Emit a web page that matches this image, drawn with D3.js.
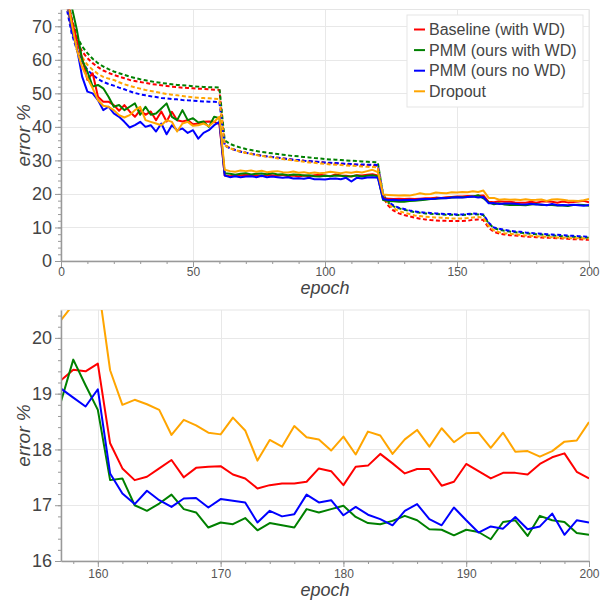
<!DOCTYPE html>
<html>
<head>
<meta charset="utf-8">
<script src="https://cdn.jsdelivr.net/npm/d3@7"></script>
<style>
body { margin: 0; background: #fff; }
svg { display: block; font-family: "Liberation Sans", Arial, sans-serif; }
</style>
</head>
<body>
<svg id="chart" width="608" height="600"></svg>
<script>
// series names + colours
const seriesNames = ["Baseline (with WD)", "PMM (ours with WD)", "PMM (ours no WD)", "Dropout"];
const seriesColors = ["#ff0000", "#008000", "#0000ff", "#ffa500"];

// top panel: every 2nd epoch from 0 to 200
const topEpochs = d3.range(0, 201, 2);

// test error (solid)
const baselineTest = [91, 80, 72, 66, 60.5, 54, 56, 49, 47.5, 47.5,
  46.5, 44.8, 46.5, 44.6, 43, 45, 43.6, 44.6, 42, 44.6,
  41.6, 44.5, 42, 41.6, 42, 40.8, 41, 41.5, 41.6, 41.5,
  40.8, 25.5, 25.3, 25.6, 25.5, 25.7, 25.4, 25.6, 25.3, 25.7,
  25.6, 25.4, 25.7, 25.3, 25.5, 25.2, 25.5, 25.3, 25.6, 25.7,
  25.5, 25.3, 25.8, 25.5, 25.4, 25.2, 25.6, 25.5, 25.7, 25.9,
  25.5, 18.7, 18.6, 18.5, 18.6, 18.5, 18.6, 18.5, 18.6, 18.7,
  18.7, 18.9, 18.8, 19.0, 19.1, 19.2, 19.2, 19.4, 19.3, 19.43,
  19.54, 17.66, 17.51, 17.81, 17.67, 17.70, 17.48, 17.36, 17.39, 17.66,
  17.36, 17.71, 17.75, 17.65, 17.35, 17.74, 17.48, 17.58, 17.74, 17.93,
  17.48];
const pmmWdTest = [92, 84, 76, 69, 60, 56.5, 52, 52.5, 51.5, 49,
  46, 46.5, 45, 46, 47, 43.6, 46, 43.6, 44, 45.5,
  47, 43, 42, 45, 42, 42.6, 41.3, 41.6, 40, 43,
  42.6, 26.2, 26.0, 25.7, 26.0, 26.2, 25.8, 26.0, 26.1, 25.9,
  26.2, 25.8, 25.9, 25.6, 25.8, 25.7, 25.5, 25.6, 25.3, 25.2,
  25.4, 25.3, 25.5, 25.4, 25.2, 25.3, 25.5, 25.2, 25.4, 25.6,
  25.3, 18.2, 17.9, 17.8, 17.7, 17.7, 17.9, 18.0, 18.1, 18.3,
  18.5, 18.6, 18.7, 18.8, 18.9, 19.0, 19.0, 19.1, 19.2, 19.61,
  18.71, 17.48, 16.90, 17.19, 16.87, 16.69, 16.77, 16.68, 16.60, 16.87,
  16.99, 16.68, 16.72, 16.73, 16.56, 16.56, 16.39, 16.73, 16.81, 16.70,
  16.47];
const pmmNoWdTest = [90, 79, 69, 63.5, 55, 50.5, 50, 48, 45, 46,
  44, 43, 41.5, 39.8, 40.5, 41.5, 40, 40.5, 38.6, 41,
  37.8, 40.5, 39, 39.5, 38.2, 39, 36.5, 38.2, 39, 40.5,
  41.5, 25.5, 25.0, 25.3, 25.0, 25.2, 25.3, 25.0, 25.4, 25.0,
  25.2, 25.0, 24.8, 25.0, 24.6, 24.7, 24.5, 24.8, 24.4, 24.4,
  24.3, 24.5, 24.6, 24.4, 24.8, 23.7, 24.8, 24.6, 24.9, 25.0,
  24.8, 18.5, 18.2, 18.3, 18.1, 18.2, 18.3, 18.2, 18.4, 18.5,
  18.5, 18.6, 18.8, 18.7, 18.9, 19.0, 18.9, 19.1, 19.2, 18.93,
  19.08, 17.21, 17.26, 16.97, 17.13, 17.11, 17.05, 16.90, 16.84, 17.05,
  16.82, 16.83, 16.64, 17.02, 16.64, 16.73, 16.62, 16.79, 16.62, 16.47,
  16.69];
const dropoutTest = [90, 80, 71, 63, 57.8, 54.5, 51.5, 48, 46.3, 46,
  45, 43.5, 42.8, 43.5, 45, 46, 42, 41.5, 41, 40.5,
  42, 41.5, 38.6, 41, 41.5, 40.3, 40.5, 41, 40.2, 41.5,
  43, 27.2, 26.8, 26.6, 27.0, 26.8, 27.0, 26.6, 26.9, 26.5,
  26.7, 26.8, 26.5, 26.4, 26.7, 26.3, 26.5, 26.2, 26.4, 26.2,
  26.3, 26.6, 26.4, 26.2, 26.5, 26.3, 26.6, 26.4, 26.8, 27.2,
  26.5, 19.8, 19.7, 19.6, 19.5, 19.6, 19.5, 19.8, 20.2, 19.9,
  20.0, 20.4, 20.3, 20.2, 20.5, 20.4, 20.6, 20.5, 20.8, 20.6,
  21.0, 18.80, 18.81, 18.26, 18.43, 18.27, 18.34, 18.17, 18.42, 18.18,
  18.23, 18.32, 17.92, 18.35, 18.38, 18.29, 18.03, 17.96, 17.87, 18.14,
  18.49];

// train error (dashed)
const baselineTrain = [90, 78, 70, 65.5, 62.5, 60.5, 59, 57.8, 56.8, 56.1,
  55.5, 55, 54.5, 54, 53.7, 53.4, 53.1, 52.8, 52.6, 52.4,
  52.2, 52.0, 51.9, 51.7, 51.6, 51.5, 51.4, 51.3, 51.2, 51.1,
  51.0, 34.6, 33.7, 33.1, 32.7, 32.3, 32.0, 31.7, 31.4, 31.2,
  31.0, 30.8, 30.6, 30.4, 30.2, 30.0, 29.9, 29.7, 29.6, 29.5,
  29.3, 29.2, 29.1, 29.0, 28.9, 28.8, 28.7, 28.6, 28.6, 28.5,
  28.4, 19.0, 16.5, 15.0, 14.2, 13.7, 13.3, 12.9, 12.6, 12.4,
  12.2, 12.1, 12.0, 12.0, 11.9, 11.9, 11.9, 12.0, 12.3, 12.4,
  12.2, 9.9, 8.7, 8.2, 7.9, 7.7, 7.6, 7.5, 7.3, 7.2,
  7.1, 7.0, 6.9, 6.9, 6.8, 6.7, 6.6, 6.5, 6.5, 6.4,
  6.3];
const pmmWdTrain = [92, 80, 72.5, 67, 64, 62, 60.3, 59, 58, 57.2,
  56.5, 56, 55.5, 55, 54.6, 54.2, 53.9, 53.6, 53.3, 53.1,
  52.9, 52.7, 52.5, 52.4, 52.3, 52.1, 52.0, 51.9, 51.8, 51.8,
  51.7, 36.0, 34.9, 34.3, 33.8, 33.4, 33.1, 32.8, 32.5, 32.3,
  32.1, 31.9, 31.7, 31.5, 31.3, 31.2, 31.0, 30.9, 30.7, 30.6,
  30.4, 30.3, 30.2, 30.1, 30.0, 29.9, 29.8, 29.7, 29.6, 29.5,
  29.4, 19.8, 17.4, 16.3, 15.7, 15.3, 14.9, 14.6, 14.4, 14.2,
  14.1, 14.0, 13.9, 13.8, 13.8, 13.7, 13.7, 13.8, 14.0, 13.9,
  13.7, 11.2, 9.8, 9.3, 9.0, 8.8, 8.6, 8.4, 8.3, 8.1,
  8.0, 7.9, 7.7, 7.6, 7.5, 7.4, 7.3, 7.2, 7.1, 7.0,
  6.9];
const pmmNoWdTrain = [88, 76, 68, 63, 59.5, 57, 55.5, 54.3, 53.4, 52.8,
  52.3, 51.7, 51.2, 50.6, 50.1, 49.7, 49.4, 49.1, 48.9, 48.6,
  48.5, 48.3, 48.2, 48.0, 47.9, 47.8, 47.7, 47.6, 47.5, 47.5,
  47.4, 34.4, 33.6, 33.1, 32.6, 32.3, 32.0, 31.7, 31.4, 31.2,
  31.0, 30.8, 30.6, 30.4, 30.2, 30.1, 29.9, 29.8, 29.6, 29.5,
  29.4, 29.3, 29.2, 29.1, 29.0, 28.9, 28.8, 28.8, 28.7, 28.7,
  28.6, 20.0, 17.6, 16.5, 15.9, 15.5, 15.1, 14.8, 14.6, 14.4,
  14.3, 14.2, 14.1, 14.0, 14.0, 13.9, 13.9, 14.0, 14.2, 14.1,
  13.9, 11.4, 10.0, 9.6, 9.3, 9.0, 8.8, 8.7, 8.5, 8.4,
  8.2, 8.1, 8.0, 7.9, 7.8, 7.7, 7.6, 7.5, 7.4, 7.3,
  7.2];
const dropoutTrain = [89, 77, 69, 64, 60.8, 58.5, 57, 55.8, 54.9, 54.4,
  54, 53.3, 52.7, 52.2, 51.8, 51.4, 51.0, 50.7, 50.4, 50.1,
  49.8, 49.6, 49.4, 49.2, 49.0, 48.8, 48.7, 48.6, 48.5, 48.4,
  48.3, 34.5, 33.6, 33.1, 32.6, 32.2, 31.9, 31.6, 31.3, 31.1,
  30.9, 30.6, 30.4, 30.2, 30.0, 29.8, 29.6, 29.4, 29.3, 29.1,
  29.0, 28.8, 28.7, 28.6, 28.5, 28.4, 28.3, 28.2, 28.1, 28.0,
  27.9, 19.5, 17.0, 15.7, 14.9, 14.4, 14.0, 13.6, 13.4, 13.2,
  13.1, 13.0, 12.9, 12.8, 12.7, 12.7, 12.7, 12.8, 13.0, 13.1,
  12.9, 10.4, 9.1, 8.6, 8.3, 8.1, 7.9, 7.8, 7.6, 7.5,
  7.4, 7.3, 7.2, 7.1, 7.0, 6.9, 6.9, 6.8, 6.8, 6.7,
  6.6];

// bottom panel: epochs 157..200, test error only
const zoomEpochs = d3.range(157, 201);
const baselineZoom = [19.24, 19.43, 19.40, 19.54, 18.11, 17.66, 17.45, 17.51, 17.66, 17.81,
  17.50, 17.67, 17.69, 17.70, 17.55, 17.48, 17.30, 17.36, 17.39, 17.39,
  17.42, 17.66, 17.61, 17.36, 17.69, 17.71, 17.92, 17.75, 17.57, 17.65,
  17.65, 17.35, 17.42, 17.74, 17.61, 17.48, 17.58, 17.58, 17.55, 17.74,
  17.86, 17.93, 17.60, 17.48];
const pmmWdZoom = [18.86, 19.61, 19.15, 18.71, 17.45, 17.48, 17.00, 16.90, 17.03, 17.19,
  16.93, 16.87, 16.60, 16.69, 16.66, 16.77, 16.55, 16.68, 16.64, 16.60,
  16.93, 16.87, 16.93, 16.99, 16.79, 16.68, 16.66, 16.72, 16.81, 16.73,
  16.57, 16.56, 16.46, 16.56, 16.52, 16.39, 16.70, 16.73, 16.45, 16.81,
  16.73, 16.70, 16.50, 16.47];
const pmmNoWdZoom = [19.09, 18.93, 18.77, 19.08, 17.57, 17.21, 17.02, 17.26, 17.09, 16.97,
  17.12, 17.13, 16.96, 17.11, 17.08, 17.05, 16.69, 16.90, 16.80, 16.84,
  17.19, 17.05, 17.09, 16.82, 16.97, 16.83, 16.75, 16.64, 16.90, 17.02,
  16.75, 16.64, 16.96, 16.73, 16.51, 16.62, 16.58, 16.79, 16.57, 16.62,
  16.85, 16.47, 16.73, 16.69];
const dropoutZoom = [20.32, 20.6, 20.9, 21.0, 19.42, 18.80, 18.89, 18.81, 18.71, 18.26,
  18.53, 18.43, 18.30, 18.27, 18.57, 18.34, 17.80, 18.17, 18.05, 18.42,
  18.22, 18.18, 17.98, 18.23, 17.91, 18.32, 18.25, 17.92, 18.18, 18.35,
  18.05, 18.38, 18.13, 18.29, 18.30, 18.03, 18.30, 17.96, 17.97, 17.87,
  17.97, 18.14, 18.16, 18.49];

// ticks
const topXTicks = [0, 50, 100, 150, 200];
const topYTicks = [0, 10, 20, 30, 40, 50, 60, 70];
const zoomXTicks = [160, 170, 180, 190, 200];
const zoomYTicks = [16, 17, 18, 19, 20];

const svg = d3.select("#chart");
const left = 61, right = 589;

function drawPanel(cfg) {
  const x = d3.scaleLinear().domain(cfg.xDomain).range([left, right]);
  const y = d3.scaleLinear().domain(cfg.yDomain).range([cfg.bottom, cfg.top]);

  svg.append("clipPath").attr("id", "clip-" + cfg.name)
    .append("rect")
    .attr("x", left).attr("y", cfg.top)
    .attr("width", right - left).attr("height", cfg.bottom - cfg.top);

  // grid
  const grid = svg.append("g").attr("stroke", "#e8e8e8").attr("stroke-width", 1);
  grid.selectAll(".gx").data(cfg.xTicks).join("line")
    .attr("x1", d => Math.round(x(d)) + 0.5).attr("x2", d => Math.round(x(d)) + 0.5)
    .attr("y1", cfg.top).attr("y2", cfg.bottom);
  grid.selectAll(".gy").data(cfg.yTicks).join("line")
    .attr("x1", left).attr("x2", right)
    .attr("y1", d => Math.round(y(d)) + 0.5).attr("y2", d => Math.round(y(d)) + 0.5);
  svg.append("rect")
    .attr("x", left).attr("y", cfg.top)
    .attr("width", right - left).attr("height", cfg.bottom - cfg.top)
    .attr("fill", "none").attr("stroke", "#e5e5e5");

  // lines
  const plot = svg.append("g").attr("clip-path", "url(#clip-" + cfg.name + ")")
    .attr("fill", "none").attr("stroke-width", 2).attr("stroke-linejoin", "round");
  cfg.series.forEach(s => {
    const line = d3.line().x((d, i) => x(cfg.epochs[i])).y(d => y(d));
    plot.append("path")
      .attr("d", line(s.values))
      .attr("stroke", s.color)
      .attr("stroke-dasharray", s.dashed ? "4,2.5" : null);
  });

  // axes
  const xMinor = svg.append("g").attr("transform", `translate(0,${cfg.bottom})`)
    .call(d3.axisBottom(x).tickValues(cfg.xMinor).tickSize(3).tickFormat(""));
  const yMinor = svg.append("g").attr("transform", `translate(${left},0)`)
    .call(d3.axisLeft(y).tickValues(cfg.yMinor).tickSize(3).tickFormat(""));
  [xMinor, yMinor].forEach(a => {
    a.select(".domain").remove();
    a.selectAll("line").attr("stroke", "#999");
  });

  const xAxis = svg.append("g").attr("transform", `translate(0,${cfg.bottom})`)
    .call(d3.axisBottom(x).tickValues(cfg.xTicks).tickFormat(d3.format("d"))
      .tickSize(6).tickSizeOuter(0).tickPadding(cfg.xPad));
  xAxis.selectAll("text").attr("font-size", 12).attr("fill", "#555");
  const yAxis = svg.append("g").attr("transform", `translate(${left},0)`)
    .call(d3.axisLeft(y).tickValues(cfg.yTicks).tickFormat(d3.format("d"))
      .tickSize(6).tickSizeOuter(0).tickPadding(3));
  yAxis.selectAll("text").attr("font-size", 18).attr("fill", "#444");
  [xAxis, yAxis].forEach(a => {
    a.attr("font-family", null).attr("font-size", null);
    a.select(".domain").attr("stroke", "#999").attr("stroke-width", 1.5);
    a.selectAll(".tick line").attr("stroke", "#999");
  });

  // axis titles
  svg.append("text")
    .attr("transform", `translate(30,${(cfg.top + cfg.bottom) / 2}) rotate(-90)`)
    .attr("text-anchor", "middle")
    .attr("font-size", 19).attr("font-style", "italic").attr("fill", "#444")
    .text("error %");
  svg.append("text")
    .attr("x", (left + right) / 2).attr("y", cfg.xLabelY)
    .attr("text-anchor", "middle")
    .attr("font-size", 18).attr("font-style", "italic").attr("fill", "#444")
    .text("epoch");
}

drawPanel({
  name: "top", top: 9.5, bottom: 261,
  xDomain: [0, 200], yDomain: [0, 75],
  xTicks: topXTicks, yTicks: topYTicks,
  xMinor: d3.range(0, 201, 10), yMinor: d3.range(0, 75, 2),
  xPad: 0, xLabelY: 294,
  epochs: topEpochs,
  series: [
    { values: baselineTrain, color: seriesColors[0], dashed: true },
    { values: pmmWdTrain, color: seriesColors[1], dashed: true },
    { values: pmmNoWdTrain, color: seriesColors[2], dashed: true },
    { values: dropoutTrain, color: seriesColors[3], dashed: true },
    { values: baselineTest, color: seriesColors[0] },
    { values: pmmWdTest, color: seriesColors[1] },
    { values: pmmNoWdTest, color: seriesColors[2] },
    { values: dropoutTest, color: seriesColors[3] }
  ]
});

drawPanel({
  name: "zoom", top: 310, bottom: 561,
  xDomain: [157, 200], yDomain: [16, 20.5],
  xTicks: zoomXTicks, yTicks: zoomYTicks,
  xMinor: d3.range(158, 201, 2), yMinor: d3.range(16, 20.51, 0.2),
  xPad: 2, xLabelY: 596,
  epochs: zoomEpochs,
  series: [
    { values: baselineZoom, color: seriesColors[0] },
    { values: pmmWdZoom, color: seriesColors[1] },
    { values: pmmNoWdZoom, color: seriesColors[2] },
    { values: dropoutZoom, color: seriesColors[3] }
  ]
});

// legend (top panel)
const legend = svg.append("g");
legend.append("rect")
  .attr("x", 407).attr("y", 15).attr("width", 176).attr("height", 92)
  .attr("fill", "#fff").attr("stroke", "#e5e5e5");
const item = legend.selectAll("g.item").data(seriesNames).join("g")
  .attr("transform", (d, i) => `translate(414,${29.5 + i * 20.6})`);
item.append("line")
  .attr("x1", 0).attr("x2", 11)
  .attr("stroke", (d, i) => seriesColors[i]).attr("stroke-width", 2);
item.append("text")
  .attr("x", 15).attr("dy", "0.35em")
  .attr("font-size", 16).attr("fill", "#444")
  .text(d => d);
</script>
</body>
</html>
